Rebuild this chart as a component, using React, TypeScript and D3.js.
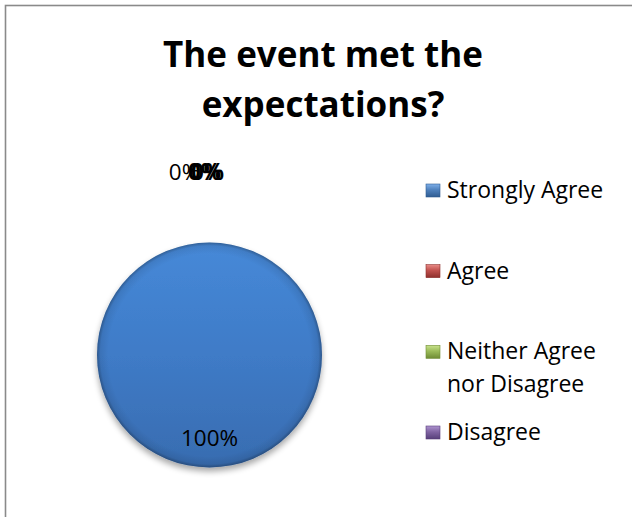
import React from "react";
import * as d3 from "d3";

const categories = ["Strongly Agree", "Agree", "Neither Agree nor Disagree", "Disagree"];
const legendLines = [["Strongly Agree"], ["Agree"], ["Neither Agree", "nor Disagree"], ["Disagree"]];
const values = [100, 0, 0, 0];
const titleLines = ["The event met the", "expectations?"];
const colors = ["#4F81BD", "#C0504D", "#9BBB59", "#8064A2"];
const lights = ["#7fb0ea", "#e88a86", "#c8e28c", "#ae94d0"];
const darks = ["#2f5c92", "#8e2f2c", "#6f8c34", "#573f7a"];

const W = 632;
const H = 517;
const FONT = "'Open Sans', Lato, sans-serif";

export default function App() {
  const cx = 209.5;
  const cy = 355;
  const r = 112.5;
  const total = d3.sum(values);
  const pie = d3.pie<number>().sort(null).value((d) => d)(values);
  const arc = d3.arc<d3.PieArcDatum<number>>().innerRadius(0).outerRadius(r);
  const labelArcIn = d3.arc<d3.PieArcDatum<number>>().innerRadius(0).outerRadius(r * 1.5);
  const labelArcOut = d3.arc<d3.PieArcDatum<number>>().innerRadius(r * 1.62).outerRadius(r * 1.62);
  const fmt = d3.format(".0%");
  const zeroDx = [0, -25, -5, -2];
  const zeroBold = [false, false, true, true];

  const legendY = d3.scalePoint<number>().domain([0, 1, 2, 3]).range([198, 440]);

  return (
    <div style={{ position: "fixed", left: 0, top: 0, width: W, height: H, background: "#fff" }}>
      <svg width={W} height={H} style={{ display: "block" }}>
        <defs>
          <linearGradient id="pieFill" x1="0" y1="0" x2="0" y2="1">
            <stop offset="0" stopColor="#4689d8" />
            <stop offset="0.5" stopColor="#3f7bc7" />
            <stop offset="1" stopColor="#386cb0" />
          </linearGradient>
          <radialGradient id="pieRim" cx="0.5" cy="0.5" r="0.5">
            <stop offset="0.9" stopColor="#000" stopOpacity="0" />
            <stop offset="0.97" stopColor="#000" stopOpacity="0.08" />
            <stop offset="1" stopColor="#000" stopOpacity="0.3" />
          </radialGradient>
          <filter id="shadow" x="-20%" y="-20%" width="140%" height="150%">
            <feGaussianBlur in="SourceAlpha" stdDeviation="3" />
            <feOffset dx="0" dy="4" result="b" />
            <feComponentTransfer>
              <feFuncA type="linear" slope="0.35" />
            </feComponentTransfer>
            <feMerge>
              <feMergeNode />
              <feMergeNode in="SourceGraphic" />
            </feMerge>
          </filter>
          {colors.map((c, i) => (
            <linearGradient key={i} id={`lg${i}`} x1="0" y1="0" x2="0" y2="1">
              <stop offset="0" stopColor={lights[i]} />
              <stop offset="0.45" stopColor={c} />
              <stop offset="1" stopColor={darks[i]} />
            </linearGradient>
          ))}
        </defs>
        <rect x={5.5} y={5.5} width={W + 20} height={H + 20} fill="#fff" stroke="#8a8a8a" strokeWidth={1.6} />

        <g fontFamily={FONT} fontWeight={700} fontSize={35} textAnchor="middle" fill="#000">
          {titleLines.map((t, i) => (
            <text key={i} x={323} y={67 + i * 50}>{t}</text>
          ))}
        </g>

        <g transform={`translate(${cx},${cy})`}>
          <g filter="url(#shadow)">
            {pie.map((p, i) =>
              p.endAngle - p.startAngle > 0 ? (
                <path key={i} d={arc(p) || ""} fill={i === 0 ? "url(#pieFill)" : colors[i]} />
              ) : null
            )}
          </g>
          <circle r={r} fill="url(#pieRim)" />
          <g fontFamily={FONT} fontSize={22.5} fill="#000" textAnchor="middle">
            {pie.map((p, i) => {
              const pct = fmt(p.data / total);
              if (p.data > 0) {
                const [x, y] = labelArcIn.centroid(p);
                return (
                  <text key={i} x={x} y={y + 7}>{pct}</text>
                );
              }
              if (i === 0) return null;
              const [x, y] = labelArcOut.centroid(p);
              return (
                <text key={i} x={x + zeroDx[i]} y={y + 7} fontWeight={zeroBold[i] ? 700 : 400}>{pct}</text>
              );
            })}
          </g>
        </g>

        <g fontFamily={FONT} fontSize={23} fill="#000">
          {categories.map((c, i) => {
            const y = legendY(i) as number;
            return (
              <g key={c}>
                <rect x={426} y={y - 14} width={14} height={13} fill={`url(#lg${i})`} stroke={darks[i]} strokeWidth={0.6} />
                {legendLines[i].map((l, j) => (
                  <text key={j} x={447} y={y + j * 33}>{l}</text>
                ))}
              </g>
            );
          })}
        </g>
      </svg>
    </div>
  );
}
